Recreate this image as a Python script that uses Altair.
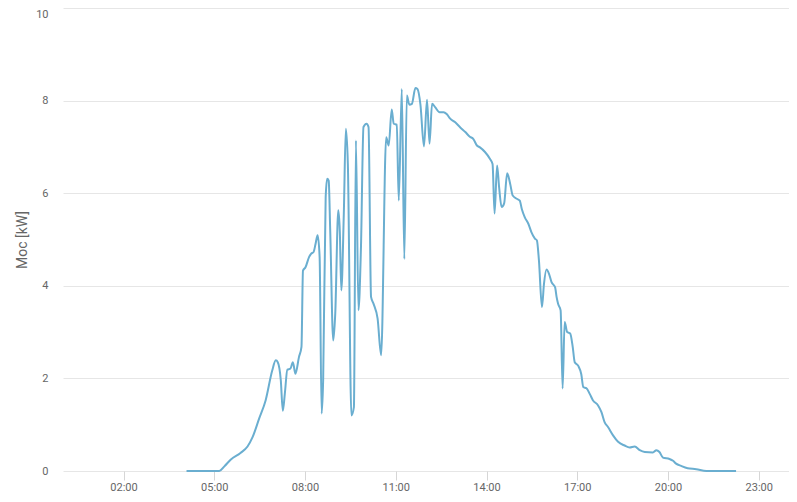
import altair as alt
import pandas as pd

times = ["04:05","05:10","05:20","05:33","05:52","06:06","06:16","06:29","06:42","06:55",
         "07:02","07:06","07:12","07:16","07:20","07:25","07:31","07:36","07:41","07:48",
         "07:53","07:56","08:01","08:08","08:12","08:17","08:21","08:25","08:29","08:33",
         "08:36","08:41","08:44","08:47","08:50","08:56","09:00","09:06","09:09","09:12",
         "09:17","09:21","09:25","09:32","09:37","09:41","09:46","09:51","09:56","10:02",
         "10:06","10:11","10:16","10:24","10:31","10:41","10:46","10:52","10:56","11:02",
         "11:06","11:12","11:17","11:22","11:27","11:32","11:39","11:43","11:49","11:56",
         "12:02","12:07","12:12","12:18","12:27","12:35","12:41","12:48","12:58","13:08",
         "13:18","13:27","13:34","13:41","13:47","13:57","14:07","14:12","14:16","14:21",
         "14:25","14:30","14:35","14:41","14:47","14:52","15:00","15:06","15:10","15:16",
         "15:23","15:29","15:36","15:40","15:44","15:50","15:54","15:59","16:04","16:09",
         "16:16","16:19","16:22","16:27","16:31","16:35","16:40","16:46","16:51","16:55",
         "17:02","17:08","17:12","17:18","17:25","17:31","17:41","17:48","17:54","18:01",
         "18:11","18:21","18:34","18:44","18:54","19:04","19:14","19:30","19:37","19:43",
         "19:50","20:03","20:10","20:16","20:26","20:39","20:56","21:16","22:15"]

power_kw = [0.00,0.00,0.10,0.25,0.39,0.53,0.73,1.13,1.53,2.17,
            2.39,2.35,1.96,1.30,1.67,2.19,2.21,2.35,2.10,2.46,
            2.68,4.33,4.40,4.62,4.69,4.73,4.91,5.09,4.62,1.24,
            1.96,5.91,6.31,6.27,5.20,2.82,3.40,5.63,5.19,3.90,
            5.56,7.39,6.63,1.20,1.38,7.14,3.47,4.83,7.43,7.50,
            7.43,3.76,3.61,3.29,2.50,7.21,7.03,7.81,7.50,7.48,
            5.84,8.25,4.58,8.11,7.91,7.93,8.27,8.25,7.91,7.01,
            8.02,7.07,7.93,7.86,7.75,7.75,7.71,7.61,7.53,7.42,
            7.32,7.22,7.17,7.03,6.99,6.89,6.74,6.63,5.56,6.60,
            6.13,5.70,5.78,6.43,6.20,5.95,5.88,5.84,5.66,5.48,
            5.34,5.16,5.02,4.98,4.55,3.54,4.04,4.35,4.26,4.08,
            3.97,3.76,3.61,3.47,1.78,3.22,3.00,2.97,2.68,2.35,
            2.27,2.09,1.81,1.79,1.66,1.53,1.42,1.27,1.06,0.95,
            0.77,0.63,0.55,0.51,0.53,0.45,0.41,0.40,0.45,0.41,
            0.29,0.26,0.22,0.16,0.11,0.06,0.04,0.00,0.00]

tick_hours = [2, 5, 8, 11, 14, 17, 20, 23]
y_ticks = [0, 2, 4, 6, 8, 10]
y_title = "Moc [kW]"
day = "2024-06-01"

df = pd.DataFrame({"t": [f"{day}T{t}:00" for t in times], "p": power_kw})

x_ticks = [alt.DateTime(year=2024, month=6, date=1, hours=h) for h in tick_hours]

chart = alt.Chart(df).mark_line(
    color="#6aaed0", strokeWidth=2, interpolate="monotone"
).encode(
    x=alt.X("t:T",
            scale=alt.Scale(domain=[alt.DateTime(year=2024, month=6, date=1, hours=0),
                                    alt.DateTime(year=2024, month=6, date=2, hours=0)]),
            axis=alt.Axis(title=None, values=x_ticks, format="%H:%M", grid=False,
                          domain=False, ticks=True, tickSize=9, tickColor="#d6d6d6",
                          labelColor="#666666", labelFontSize=11, labelFont="Roboto",
                          labelPadding=1, labelFlush=False, labelOverlap=False)),
    y=alt.Y("p:Q",
            scale=alt.Scale(domain=[0, 10], nice=False),
            axis=alt.Axis(title=y_title, values=y_ticks, grid=True, gridColor="#e6e6e6",
                          domain=False, ticks=False, labelPadding=15,
                          labelColor="#666666", labelFontSize=11, labelFont="Roboto",
                          labelBaseline={"condition": {"test": "datum.value == 10", "value": "top"},
                                         "value": "middle"},
                          titleColor="#666666", titleFontSize=14, titleFont="Roboto",
                          titleFontWeight="normal", titleX=-41, titleY=231.5,
                          titleAngle=270, titleAlign="center", titleBaseline="middle")),
).properties(
    width=726, height=463,
    autosize=alt.AutoSizeParams(type="none"),
    padding={"left": 55, "top": 0, "right": 0, "bottom": 23},
).configure_view(stroke=None)

chart.save("out.html", embed_options={"renderer": "svg", "actions": False})
